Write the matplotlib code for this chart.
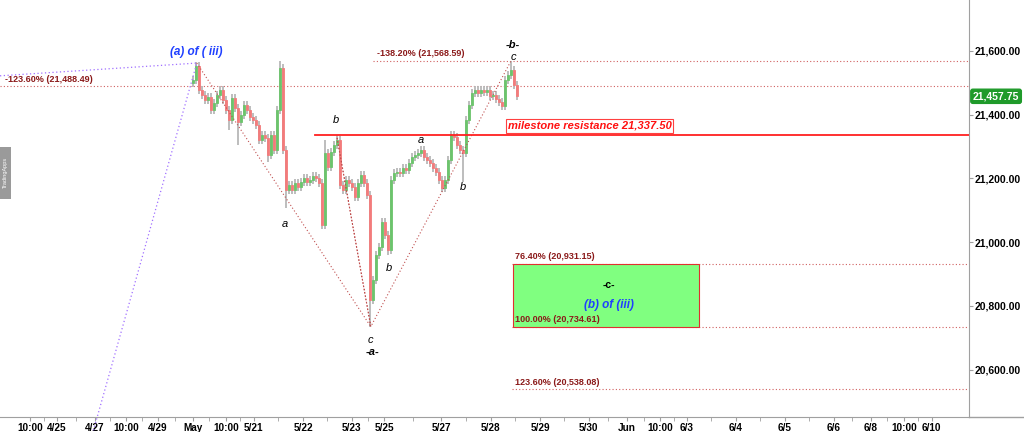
import numpy as np
import matplotlib.pyplot as plt
from matplotlib.patches import Rectangle
from matplotlib.lines import Line2D

plt.rcParams['font.family'] = ['Liberation Sans', 'DejaVu Sans']

# closes, one bar per candle
closes = [21509, 21552, 21478, 21462, 21446, 21456, 21415, 21437, 21462, 21478,
          21446, 21415, 21383, 21452, 21421, 21377, 21399, 21430, 21415, 21393,
          21383, 21368, 21321, 21336, 21327, 21273, 21336, 21289, 21415, 21546,
          21289, 21164, 21179, 21164, 21186, 21173, 21189, 21201, 21189, 21195,
          21208, 21201, 21186, 21053, 21280, 21236, 21283, 21305, 21321, 21179,
          21164, 21195, 21186, 21173, 21142, 21186, 21211, 21186, 21148, 20818,
          20881, 20960, 20985, 21063, 21022, 20975, 21195, 21217, 21220, 21217,
          21233, 21226, 21248, 21267, 21273, 21280, 21289, 21267, 21258, 21248,
          21233, 21220, 21195, 21170, 21195, 21258, 21336, 21330, 21305, 21289,
          21280, 21383, 21430, 21468, 21478, 21468, 21478, 21471, 21478, 21459,
          21462, 21449, 21440, 21427, 21509, 21525, 21540, 21493, 21457.75]
first_open = 21500
# notable wick extremes
highs = {1: 21565, 29: 21568, 44: 21320, 48: 21337, 106: 21568.59}
lows = {12: 21352, 15: 21305, 25: 21250, 31: 21107, 43: 21040, 59: 20734.61,
        65: 20960, 90: 21190}

fib_levels = [21488.49, 21568.59, 20931.15, 20734.61, 20538.08]
fib_labels = ['-123.60% (21,488.49)', '-138.20% (21,568.59)', '76.40% (20,931.15)',
              '100.00% (20,734.61)', '123.60% (20,538.08)']
resistance = 21337.50
last_price = 21457.75

xtick_pos = [-54.3, -45.3, -32.7, -22.3, -11.7, 0, 11, 20.3, 36.7, 53, 63.7, 82.7,
             99.3, 115.7, 132, 144.7, 155.7, 164.7, 181, 197.3, 213.7, 226, 237, 246.3]
xtick_lab = ['10:00', '4/25', '4/27', '10:00', '4/29', 'May', '10:00', '5/21', '5/22',
             '5/23', '5/25', '5/27', '5/28', '5/29', '5/30', 'Jun', '10:00', '6/3',
             '6/4', '6/5', '6/6', '6/8', '10:00', '6/10']

fig = plt.figure(figsize=(10.24, 4.32), dpi=100)
ax = fig.add_axes([0, 0.0347, 0.9463, 0.9653])
ax.set_xlim(-64.3, 258.7)
ax.set_ylim(20451, 21760)

opens = [first_open] + closes[:-1]
for i, (o, c) in enumerate(zip(opens, closes)):
    hi = highs.get(i, max(o, c) + 12)
    lo = lows.get(i, min(o, c) - 12)
    ax.vlines(i, lo, hi, color='#b8b8b8', lw=1.3, zorder=2)
    col = '#6cc46c' if c >= o else '#f37b7b'
    ax.add_patch(Rectangle((i - 0.35, min(o, c)), 0.7, max(abs(c - o), 2),
                           facecolor=col, edgecolor=col, lw=0.6, zorder=3))

# fib dotted levels
starts = [-64.3, 60, 106.3, 106.3, 106.3]
lab_x = [-62.7, 61.3, 107.3, 107.3, 107.3]
lab_dy = [21, 23, 23, 22, 20]
for lv, lab, s, lx, dy in zip(fib_levels, fib_labels, starts, lab_x, lab_dy):
    ax.plot([s, 258.7], [lv, lv], color='#d06060', lw=0.8, ls=(0, (1, 2)), zorder=1)
    ax.text(lx, lv + dy, lab, color='#8b1a1a', fontsize=6.5, ha='left', va='center',
            zorder=6, fontweight='bold')

# target box
ax.add_patch(Rectangle((106.7, fib_levels[3]), 62, fib_levels[2] - fib_levels[3],
                       facecolor='#80ff80', edgecolor='#e03030', lw=0.8, zorder=4))
ax.text(138.7, 20866, '-c-', fontsize=7.5, ha='center', va='center', zorder=6,
        fontweight='bold')
ax.text(138.7, 20803, '(b) of (iii)', fontsize=8.5, color='#2040ff', style='italic',
        ha='center', va='center', zorder=6, fontweight='bold')

# resistance
ax.plot([40.7, 258.7], [resistance, resistance], color='#ff2020', lw=1.3, zorder=5)
ax.text(132.3, 21365, 'milestone resistance 21,337.50', color='#ff1010', fontsize=8,
        style='italic', ha='center', va='center', zorder=6, fontweight='bold',
        bbox=dict(boxstyle='square,pad=0.15', fc='white', ec='#ff4040', lw=0.8))

# wave lines
ax.plot([1.3, 59.3, 48, 59.3, 106], [21562, 20734.61, 21330, 20734.61, 21568.59],
        color='#c05050', lw=0.8, ls=(0, (1, 2)), zorder=4)
ax.plot([-64.3, 1.3, -33.3], [21522, 21562, 20404], color='#a070ff', lw=0.9,
        ls=(0, (1, 2)), zorder=4, clip_on=False)
ax.text(1, 21597, '(a) of ( iii)', color='#2040ff', fontsize=8.5, style='italic',
        ha='center', va='center', fontweight='bold')

wave_txt = ['a', 'b', 'c', '-a-', 'b', 'a', 'b', 'c', '-b-']
wave_x = [30.7, 47.7, 59.3, 60, 65.3, 76, 90, 106.7, 106.7]
wave_y = [21057, 21383, 20693, 20655, 20919, 21321, 21173, 21581, 21619]
for t, x, y in zip(wave_txt, wave_x, wave_y):
    ax.text(x, y, t, fontsize=8, style='italic', ha='center', va='center', zorder=6,
            fontweight='bold' if t.startswith('-') else 'normal')

# axes styling
for s in ['left', 'top']:
    ax.spines[s].set_visible(False)
ax.spines['right'].set_color('#a0a0a0')
ax.spines['bottom'].set_color('#a0a0a0')
ax.yaxis.tick_right()
ax.set_yticks([20600, 20800, 21000, 21200, 21400, 21600])
ax.set_yticklabels(['{:,.2f}'.format(v) for v in ax.get_yticks()],
                   fontsize=7.5, fontweight='bold')
ax.tick_params(axis='y', length=3, color='#a0a0a0', pad=1)
ax.set_xticks(xtick_pos)
ax.set_xticklabels(xtick_lab, fontsize=7.2, fontweight='bold')
ax.set_xticks([(a + b) / 2 for a, b in zip(xtick_pos[:-1], xtick_pos[1:])], minor=True)
ax.tick_params(axis='x', which='both', length=3, color='#a0a0a0', pad=1)
fig.add_artist(Line2D([0.9463, 1], [0.0347, 0.0347], color='#a0a0a0', lw=1))

# last price tag
ax.text(1.004, last_price, '21,457.75', transform=ax.get_yaxis_transform(),
        color='white', fontsize=7.5, fontweight='bold', ha='left', va='center',
        clip_on=False, bbox=dict(boxstyle='round,pad=0.2', fc='#1f9a2a', ec='#1f9a2a'))

# side logo
fig.add_artist(Rectangle((0, 0.54), 0.011, 0.12, transform=fig.transFigure,
                         facecolor='#9a9a9a', edgecolor='none'))
fig.text(0.0055, 0.6, 'TradingApps', rotation=90, color='white', fontsize=4,
         ha='center', va='center')

fig.savefig('out.png', dpi=100)
